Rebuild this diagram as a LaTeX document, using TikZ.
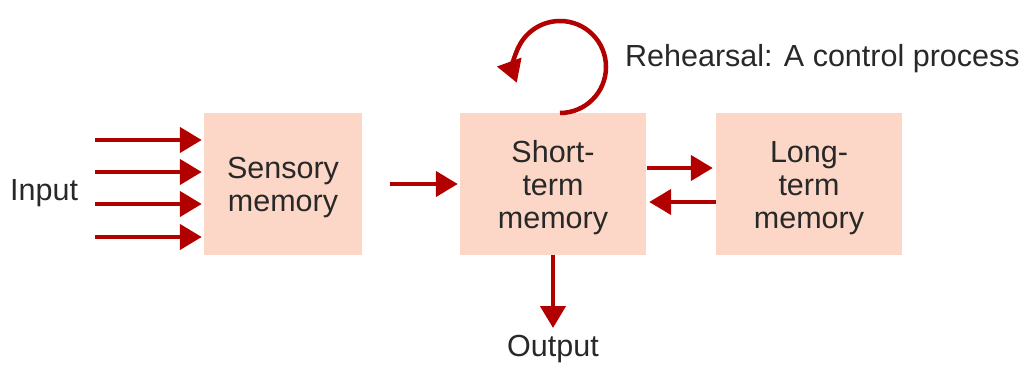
\documentclass[tikz,border=0pt]{standalone}
\usepackage{fontspec}
\setmainfont{Liberation Sans}
\usetikzlibrary{arrows.meta}
\definecolor{boxfill}{RGB}{252,214,198}
\definecolor{arrowred}{RGB}{178,0,0}
\definecolor{ink}{RGB}{40,40,40}
\tikzset{
  store/.style={fill=boxfill, draw=none, minimum height=142pt, inner sep=0pt},
  lbl/.style={text=ink, font=\fontsize{30.5pt}{33pt}\selectfont, inner sep=0pt,
    align=center},
  flow/.style={draw=arrowred, line width=4.5pt,
    -{Triangle[length=22pt,width=25pt]}, arrowred},
}
\begin{document}
\begin{tikzpicture}[x=1pt,y=1pt]
  \useasboundingbox (0,0) rectangle (1024,364);

  % memory stores
  \node[store, minimum width=158pt] (sens)  at (283,180) {};
  \node[store, minimum width=186pt] (short) at (553,180) {};
  \node[store, minimum width=186pt] (long)  at (809,180) {};
  \node[lbl] (sensT)  at ([yshift=-4pt]sens.center)  {Sensory\\memory};
  \node[lbl] (shortT) at ([yshift=-4pt]short.center) {Short-\\term\\memory};
  \node[lbl] (longT)  at ([yshift=-4pt]long.center)  {Long-\\term\\memory};

  % input side
  \node[lbl, anchor=base west] (input) at (10,163) {Input};
  \coordinate (in1) at (95,224);
  \coordinate (in2) at (95,192);
  \coordinate (in3) at (95,160);
  \coordinate (in4) at (95,127);
  \foreach \c in {in1,in2,in3,in4}
    \draw[flow, shorten >=2pt] (\c) -- (sens.west |- \c);

  % transfers between stores
  \draw[flow, shorten <=28pt, shorten >=2pt] (sens.east) -- (short.west);
  \coordinate (stl) at (647,196);
  \coordinate (lts) at (716,162);
  \draw[flow, shorten >=3pt] (stl) -- (long.west |- stl);
  \draw[flow, shorten >=3pt] (lts) -- (short.east |- lts);

  % output
  \node[lbl, anchor=base] (output) at (553,8) {Output};
  \draw[flow] (short.south) -- (553,36);

  % rehearsal loop
  \coordinate (loop) at (560,251);
  \draw[flow] (loop) arc[start angle=-90, end angle=200, radius=46pt];
  \node[lbl, anchor=base west] (reh) at (625,297) {Rehearsal: A control process};
\end{tikzpicture}
\end{document}
